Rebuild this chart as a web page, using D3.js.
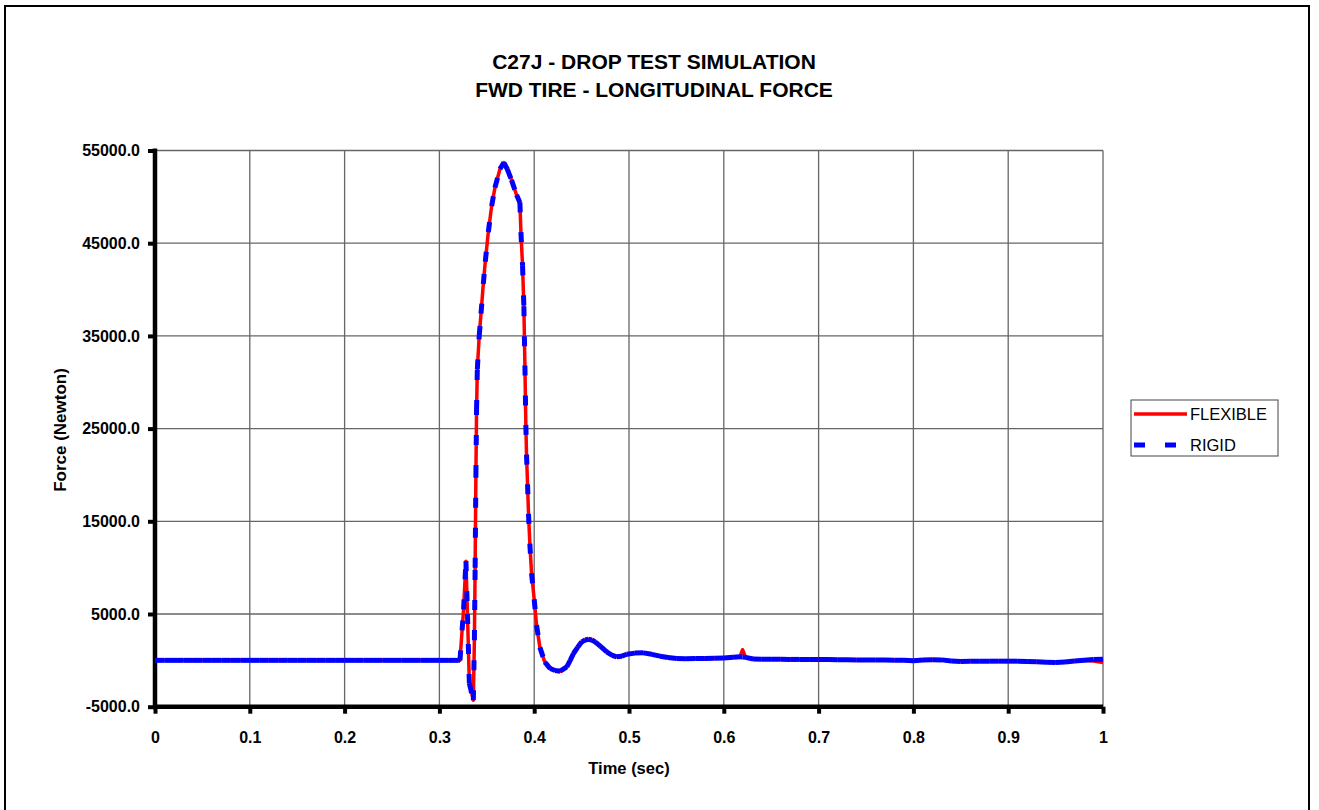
<!DOCTYPE html>
<html>
<head>
<meta charset="utf-8">
<script src="https://cdn.jsdelivr.net/npm/d3@7"></script>
<style>
  body { margin: 0; background: #fff; }
  svg { display: block; font-family: Arial, 'Liberation Sans', sans-serif; }
</style>
</head>
<body>
<svg id="chart" width="1319" height="810"></svg>
<script>
// Chart values.
const titleLines = ['C27J - DROP TEST SIMULATION', 'FWD TIRE - LONGITUDINAL FORCE'];
const seriesNames = ['FLEXIBLE', 'RIGID'];
const xTicks = [0, 0.1, 0.2, 0.3, 0.4, 0.5, 0.6, 0.7, 0.8, 0.9, 1];
const yTicks = [-5000, 5000, 15000, 25000, 35000, 45000, 55000];

// Sample times (sec)
const time = [
  0, 0.01, 0.02, 0.03, 0.04, 0.05, 0.06, 0.07, 0.08, 0.09, 0.1,
  0.11, 0.12, 0.13, 0.14, 0.15, 0.16, 0.17, 0.18, 0.19, 0.2,
  0.21, 0.22, 0.23, 0.24, 0.25, 0.26, 0.27, 0.28, 0.29, 0.3,
  0.31, 0.32, 0.3217, 0.3255, 0.328, 0.3296, 0.3316, 0.3358,
  0.3369, 0.3377, 0.3385, 0.3392, 0.34, 0.342, 0.3439, 0.3463, 0.3484,
  0.3516, 0.3551, 0.3586, 0.3639, 0.368, 0.3716, 0.3761, 0.3814, 0.3849,
  0.386, 0.3877, 0.3891, 0.3902, 0.3912, 0.3919, 0.393, 0.394, 0.3954,
  0.3972, 0.4, 0.4025, 0.406, 0.4112, 0.4169, 0.422, 0.4274, 0.4344,
  0.438, 0.4414, 0.4458, 0.4502, 0.4537, 0.4572, 0.4608, 0.4643, 0.47,
  0.4765, 0.482, 0.4871, 0.4925, 0.4976, 0.506, 0.5152, 0.524, 0.5327,
  0.541, 0.5503, 0.56, 0.57, 0.58, 0.59, 0.6, 0.61, 0.617, 0.6198,
  0.623, 0.631, 0.64, 0.65, 0.66, 0.67, 0.68, 0.69, 0.7, 0.71, 0.72,
  0.73, 0.74, 0.75, 0.76, 0.77, 0.78, 0.79, 0.8, 0.81, 0.82, 0.83,
  0.84, 0.85, 0.86, 0.87, 0.88, 0.89, 0.9, 0.91, 0.92, 0.93, 0.94,
  0.95, 0.96, 0.97, 0.98, 0.99, 1,
];

// Longitudinal force (N), rigid model
const rigidForce = [
  0, 0, 0, 0, 0, 0, 0, 0, 0, 0, 0,
  0, 0, 0, 0, 0, 0, 0, 0, 0, 0,
  0, 0, 0, 0, 0, 0, 0, 0, 0, 0,
  0, 0, 0, 5500, 10700, 5000, -2500, -4300,
  2200, 10000, 20000, 27000, 31400, 35000, 37400, 40600, 43000,
  46200, 49000, 51000, 53000, 53700, 53000, 51800, 50200, 49400,
  46200, 42600, 38200, 31800, 25400, 22200, 19000, 15800, 12600,
  9400, 6600, 3800, 1400, -200, -880, -1100, -1170, -700,
  0, 740, 1400, 2000, 2200, 2280, 2200, 2000, 1500,
  920, 550, 380, 450, 660, 780, 810, 650, 450,
  300, 200, 180, 190, 200, 220, 260, 330, 380, 360,
  320, 150, 130, 120, 110, 100, 100, 90, 90, 80, 70,
  60, 50, 40, 40, 30, 20, 0, -50, 40, 60, 50,
  -60, -120, -110, -100, -90, -90, -90, -90, -120, -160, -200,
  -230, -180, -60, 20, 90, 130,
];

// Longitudinal force (N), flexible model
const flexibleForce = [
  0, 0, 0, 0, 0, 0, 0, 0, 0, 0, 0,
  0, 0, 0, 0, 0, 0, 0, 0, 0, 0,
  0, 0, 0, 0, 0, 0, 0, 0, 0, 0,
  0, 0, 0, 5500, 10700, 5000, -2500, -4300,
  2200, 10000, 20000, 27000, 31400, 35000, 37400, 40600, 43000,
  46200, 49000, 51000, 53000, 53700, 53000, 51800, 50200, 49400,
  46200, 42600, 38200, 31800, 25400, 22200, 19000, 15800, 12600,
  9400, 6600, 3800, 1400, -200, -880, -1100, -1170, -700,
  0, 740, 1400, 2000, 2200, 2280, 2200, 2000, 1500,
  920, 550, 380, 450, 660, 780, 810, 650, 450,
  300, 200, 180, 190, 200, 220, 260, 330, 380, 1150,
  320, 150, 130, 120, 110, 100, 100, 90, 90, 80, 70,
  60, 50, 40, 40, 30, 20, 0, -50, 40, 60, 50,
  -60, -60, -60, -100, -90, -90, -90, -90, -120, -160, -200,
  -230, -180, -60, 20, -80, -230,
];

const svg = d3.select('#chart');

// Outer frame of the chart object (runs off the bottom of the window)
svg.append('rect')
  .attr('x', 5).attr('y', 6)
  .attr('width', 1304).attr('height', 830)
  .attr('fill', 'none')
  .attr('stroke', '#000')
  .attr('stroke-width', 2);

const x = d3.scaleLinear().domain([0, 1]).range([155, 1103]);
const y = d3.scaleLinear().domain([-5000, 55000]).range([706.7, 150.5]);

// Titles
svg.append('g')
  .selectAll('text')
  .data(titleLines)
  .join('text')
  .attr('x', 654)
  .attr('y', (d, i) => 68.5 + i * 28)
  .attr('text-anchor', 'middle')
  .style('font-size', '21px')
  .style('font-weight', 'bold')
  .text((d) => d);

// Gridlines
const grid = svg.append('g')
  .attr('stroke', '#666')
  .attr('stroke-width', 1.3);

grid.selectAll('.hgrid')
  .data(yTicks.slice(1))
  .join('line')
  .attr('class', 'hgrid')
  .attr('x1', x(0)).attr('x2', x(1))
  .attr('y1', (d) => y(d)).attr('y2', (d) => y(d));

grid.selectAll('.vgrid')
  .data(xTicks.slice(1))
  .join('line')
  .attr('class', 'vgrid')
  .attr('x1', (d) => x(d)).attr('x2', (d) => x(d))
  .attr('y1', y(55000)).attr('y2', y(-5000));

// Axes - thick black lines with square tick marks outside.
// Plain hyphen for negatives, like the original labels.
const yAxis = svg.append('g')
  .attr('transform', `translate(${x(0)},0)`)
  .call(d3.axisLeft(y).tickValues(yTicks).tickSize(7).tickPadding(8).tickFormat((d) => d.toFixed(1)));

const xAxis = svg.append('g')
  .attr('transform', `translate(0,${y(-5000)})`)
  .call(d3.axisBottom(x).tickValues(xTicks).tickSize(7).tickPadding(18).tickFormat((d) => String(d)));

[xAxis, yAxis].forEach((ax) => {
  ax.select('.domain').remove();
  ax.selectAll('.tick line').attr('stroke', '#000').attr('stroke-width', 4);
  ax.selectAll('.tick text')
    .attr('fill', '#000')
    .style('font-family', "Arial, 'Liberation Sans', sans-serif")
    .style('font-size', '16px')
    .style('font-weight', 'bold');
});

svg.append('line')
  .attr('x1', x(0)).attr('x2', x(0))
  .attr('y1', y(55000) - 2).attr('y2', y(-5000) + 2.5)
  .attr('stroke', '#000').attr('stroke-width', 4.5);
svg.append('line')
  .attr('x1', x(0) - 2).attr('x2', x(1))
  .attr('y1', y(-5000)).attr('y2', y(-5000))
  .attr('stroke', '#000').attr('stroke-width', 4.5);

// Axis titles
svg.append('text')
  .attr('x', 629).attr('y', 774)
  .attr('text-anchor', 'middle')
  .style('font-size', '16.5px')
  .style('font-weight', 'bold')
  .text('Time (sec)');

svg.append('text')
  .attr('transform', 'translate(66,430) rotate(-90)')
  .attr('text-anchor', 'middle')
  .style('font-size', '17px')
  .style('font-weight', 'bold')
  .text('Force (Newton)');

// Series
const flexPts = time.map((t, i) => [x(t), y(flexibleForce[i])]);
const rigidPts = time.map((t, i) => [x(t), y(rigidForce[i])]);

svg.append('path')
  .attr('d', d3.line()(flexPts))
  .attr('fill', 'none')
  .attr('stroke', '#ff0000')
  .attr('stroke-width', 3.5)
  .attr('stroke-linejoin', 'round');

// The dash pattern restarts on every segment, so densely sampled parts look solid
svg.append('g')
  .selectAll('line')
  .data(d3.pairs(rigidPts))
  .join('line')
  .attr('x1', (d) => d[0][0]).attr('y1', (d) => d[0][1])
  .attr('x2', (d) => d[1][0]).attr('y2', (d) => d[1][1])
  .attr('stroke', '#0000ff')
  .attr('stroke-width', 5)
  .attr('stroke-dasharray', '10,20');

// Legend
const legend = svg.append('g').attr('transform', 'translate(1131,400)');
legend.append('rect')
  .attr('width', 147).attr('height', 56)
  .attr('fill', '#fff')
  .attr('stroke', '#444')
  .attr('stroke-width', 1);

legend.selectAll('line')
  .data(seriesNames)
  .join('line')
  .attr('x1', 3).attr('x2', 56)
  .attr('y1', (d, i) => 14 + i * 31).attr('y2', (d, i) => 14 + i * 31)
  .attr('stroke', (d, i) => (i === 0 ? '#ff0000' : '#0000ff'))
  .attr('stroke-width', (d, i) => (i === 0 ? 3.5 : 5))
  .attr('stroke-dasharray', (d, i) => (i === 0 ? null : '11,20'));

legend.selectAll('text')
  .data(seriesNames)
  .join('text')
  .attr('x', 59)
  .attr('y', (d, i) => 20 + i * 31)
  .style('font-size', '16.5px')
  .text((d) => d);
</script>
</body>
</html>
